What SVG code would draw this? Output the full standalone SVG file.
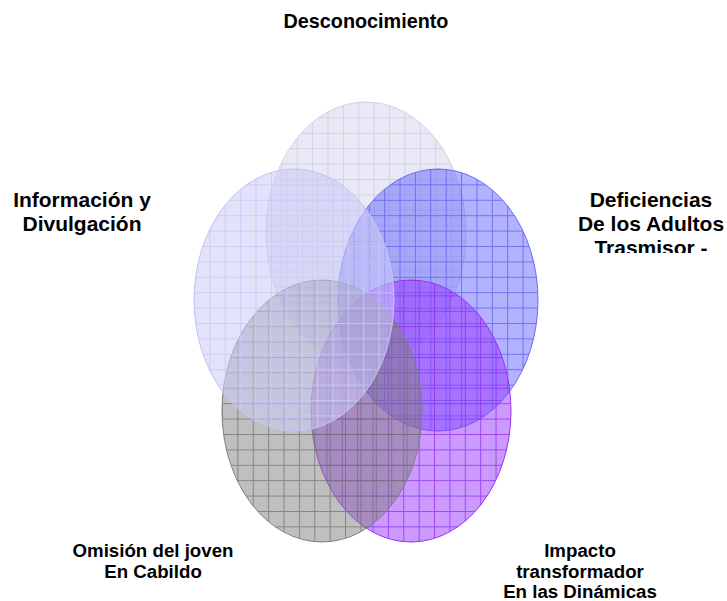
<svg xmlns="http://www.w3.org/2000/svg" width="727" height="601" viewBox="0 0 727 601">
<style>
.lbl{font-family:"Liberation Sans",Arial,sans-serif;font-weight:bold;font-size:18.7px;fill:#000;text-anchor:middle}
.big{font-size:21px}
</style>
<defs>
<pattern id="g1" patternUnits="userSpaceOnUse" x="266" y="102" width="15.38" height="15.4">
<rect width="15.38" height="15.4" fill="#D3D3EB" fill-opacity="0.5"/>
<path d="M0 0.5H15.38M0.5 0V15.4" stroke="#C6C6E0" stroke-opacity="0.7" stroke-width="1" fill="none"/>
</pattern>
<pattern id="g2" patternUnits="userSpaceOnUse" x="338" y="169" width="15.38" height="15.4">
<rect width="15.38" height="15.4" fill="#6666FF" fill-opacity="0.5"/>
<path d="M0 0.5H15.38M0.5 0V15.4" stroke="#5C5CEE" stroke-opacity="0.75" stroke-width="1" fill="none"/>
</pattern>
<pattern id="g3" patternUnits="userSpaceOnUse" x="311" y="280" width="15.38" height="15.4">
<rect width="15.38" height="15.4" fill="#9933FF" fill-opacity="0.5"/>
<path d="M0 0.5H15.38M0.5 0V15.4" stroke="#8A2AEE" stroke-opacity="0.75" stroke-width="1" fill="none"/>
</pattern>
<pattern id="g4" patternUnits="userSpaceOnUse" x="222" y="280" width="15.38" height="15.4">
<rect width="15.38" height="15.4" fill="#808080" fill-opacity="0.5"/>
<path d="M0 0.5H15.38M0.5 0V15.4" stroke="#707070" stroke-opacity="0.75" stroke-width="1" fill="none"/>
</pattern>
<pattern id="g5" patternUnits="userSpaceOnUse" x="194" y="169" width="15.38" height="15.4">
<rect width="15.38" height="15.4" fill="#C9C9F7" fill-opacity="0.55"/>
<path d="M0 0.5H15.38M0.5 0V15.4" stroke="#C8C8F8" stroke-opacity="0.85" stroke-width="1" fill="none"/>
</pattern>
<clipPath id="clipR"><rect x="560" y="180" width="167" height="73"/></clipPath>
</defs>
<rect width="727" height="601" fill="#FFFFFF"/>
<g id="connectors"></g>
<g id="n-desconocimiento">
<ellipse cx="366" cy="233" rx="100" ry="131" fill="url(#g1)" stroke="#D0D0E8" stroke-width="1"/>
<text class="lbl" x="366" y="28" style="font-size:19.8px">Desconocimiento</text>
</g>
<g id="n-deficiencias">
<ellipse cx="438" cy="300" rx="100" ry="131" fill="url(#g2)" stroke="#6A6AF5" stroke-width="1"/>
<g clip-path="url(#clipR)">
<text class="lbl big" x="651" y="207">Deficiencias</text>
<text class="lbl big" x="651" y="231">De los Adultos</text>
<text class="lbl big" x="651" y="255">Trasmisor -</text>
</g>
</g>
<g id="n-impacto">
<ellipse cx="411" cy="411" rx="100" ry="131" fill="url(#g3)" stroke="#9933EE" stroke-width="1"/>
<text class="lbl" x="580" y="557">Impacto</text>
<text class="lbl" x="580" y="578">transformador</text>
<text class="lbl" x="580" y="598">En las Dinámicas</text>
</g>
<g id="n-omision">
<ellipse cx="322" cy="411" rx="100" ry="131" fill="url(#g4)" stroke="#808080" stroke-width="1"/>
<text class="lbl" x="153" y="557">Omisión del joven</text>
<text class="lbl" x="153" y="578">En Cabildo</text>
</g>
<g id="n-informacion">
<ellipse cx="294" cy="300" rx="100" ry="131" fill="url(#g5)" stroke="#C4C4F4" stroke-width="1"/>
<text class="lbl big" x="82" y="207">Información y</text>
<text class="lbl big" x="82" y="231">Divulgación</text>
</g>
</svg>
